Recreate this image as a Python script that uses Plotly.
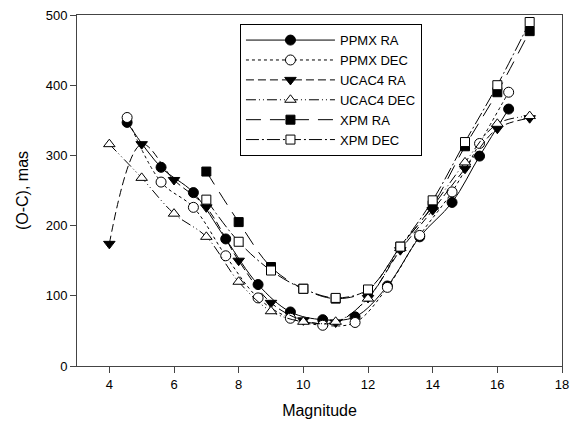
import plotly.graph_objects as go

# ---- data ----
ppmx_mag = [4.55, 5.6, 6.6, 7.6, 8.6, 9.6, 10.6, 11.6, 12.6, 13.6, 14.6, 15.45, 16.35]
ppmx_ra = [347, 283, 247, 181, 116, 77, 66, 70, 114, 184, 233, 299, 366]
ppmx_dec = [354, 262, 226, 157, 97, 68, 58, 62, 112, 186, 248, 317, 390]

ucac4_mag = [4, 5, 6, 7, 8, 9, 10, 11, 12, 13, 14, 15, 16, 17]
ucac4_ra = [174, 316, 265, 226, 150, 90, 65, 62, 97, 165, 222, 281, 338, 353]
ucac4_dec = [316, 268, 217, 184, 120, 78, 63, 63, 96, 168, 227, 290, 345, 356]

xpm_mag = [7, 8, 9, 10, 11, 12, 13, 14, 15, 16, 17]
xpm_ra = [277, 205, 141, 110, 96, 108, 170, 229, 313, 390, 477]
xpm_dec = [237, 177, 136, 110, 97, 109, 170, 236, 319, 400, 490]

x_ticks = [4, 6, 8, 10, 12, 14, 16, 18]
y_ticks = [0, 100, 200, 300, 400, 500]

series = [
    ("PPMX RA", ppmx_mag, ppmx_ra, "solid", "circle", "black"),
    ("PPMX DEC", ppmx_mag, ppmx_dec, "dot", "circle", "white"),
    ("UCAC4 RA", ucac4_mag, ucac4_ra, "8px,4px", "triangle-down", "black"),
    ("UCAC4 DEC", ucac4_mag, ucac4_dec, "10px,3px,1px,3px,1px,3px", "triangle-up", "white"),
    ("XPM RA", xpm_mag, xpm_ra, "15px,9px", "square", "black"),
    ("XPM DEC", xpm_mag, xpm_dec, "13px,3px,2px,3px", "square", "white"),
]

fig = go.Figure()
for name, xs, ys, dash, sym, fill in series:
    fig.add_trace(go.Scatter(
        x=xs, y=ys, name=name, mode="lines+markers",
        line=dict(color="black", width=1, dash=dash, shape="spline", smoothing=1),
        marker=dict(symbol=sym, size=10 if sym != "square" else 9, color=fill,
                    line=dict(color="black", width=1)),
    ))

font_family = "Arial, Liberation Sans, sans-serif"
fig.update_layout(
    width=576, height=426,
    margin=dict(l=77, r=14, t=15, b=60, autoexpand=False),
    paper_bgcolor="white", plot_bgcolor="white",
    font=dict(family=font_family, size=13, color="black"),
    showlegend=True,
    legend=dict(
        x=0.336, y=0.974, xanchor="left", yanchor="top",
        bordercolor="black", borderwidth=1, bgcolor="white",
        font=dict(size=13), itemwidth=89, tracegroupgap=0,
    ),
    xaxis=dict(
        range=[3, 18], tickvals=x_ticks, ticks="outside", ticklen=6,
        showline=True, linecolor="#444", linewidth=1, mirror=True,
        showgrid=False, zeroline=False, tickcolor="#444", automargin=False,
        title=dict(text="Magnitude", font=dict(size=16), standoff=14),
        tickfont=dict(size=13),
    ),
    yaxis=dict(
        range=[0, 500], tickvals=y_ticks, ticks="outside", ticklen=6,
        showline=True, linecolor="#444", linewidth=1, mirror=True,
        showgrid=False, zeroline=False, tickcolor="#444", automargin=False,
        title=dict(text="(O-C), mas", font=dict(size=16), standoff=13),
        tickfont=dict(size=13),
    ),
)

fig.write_html("out.html")
